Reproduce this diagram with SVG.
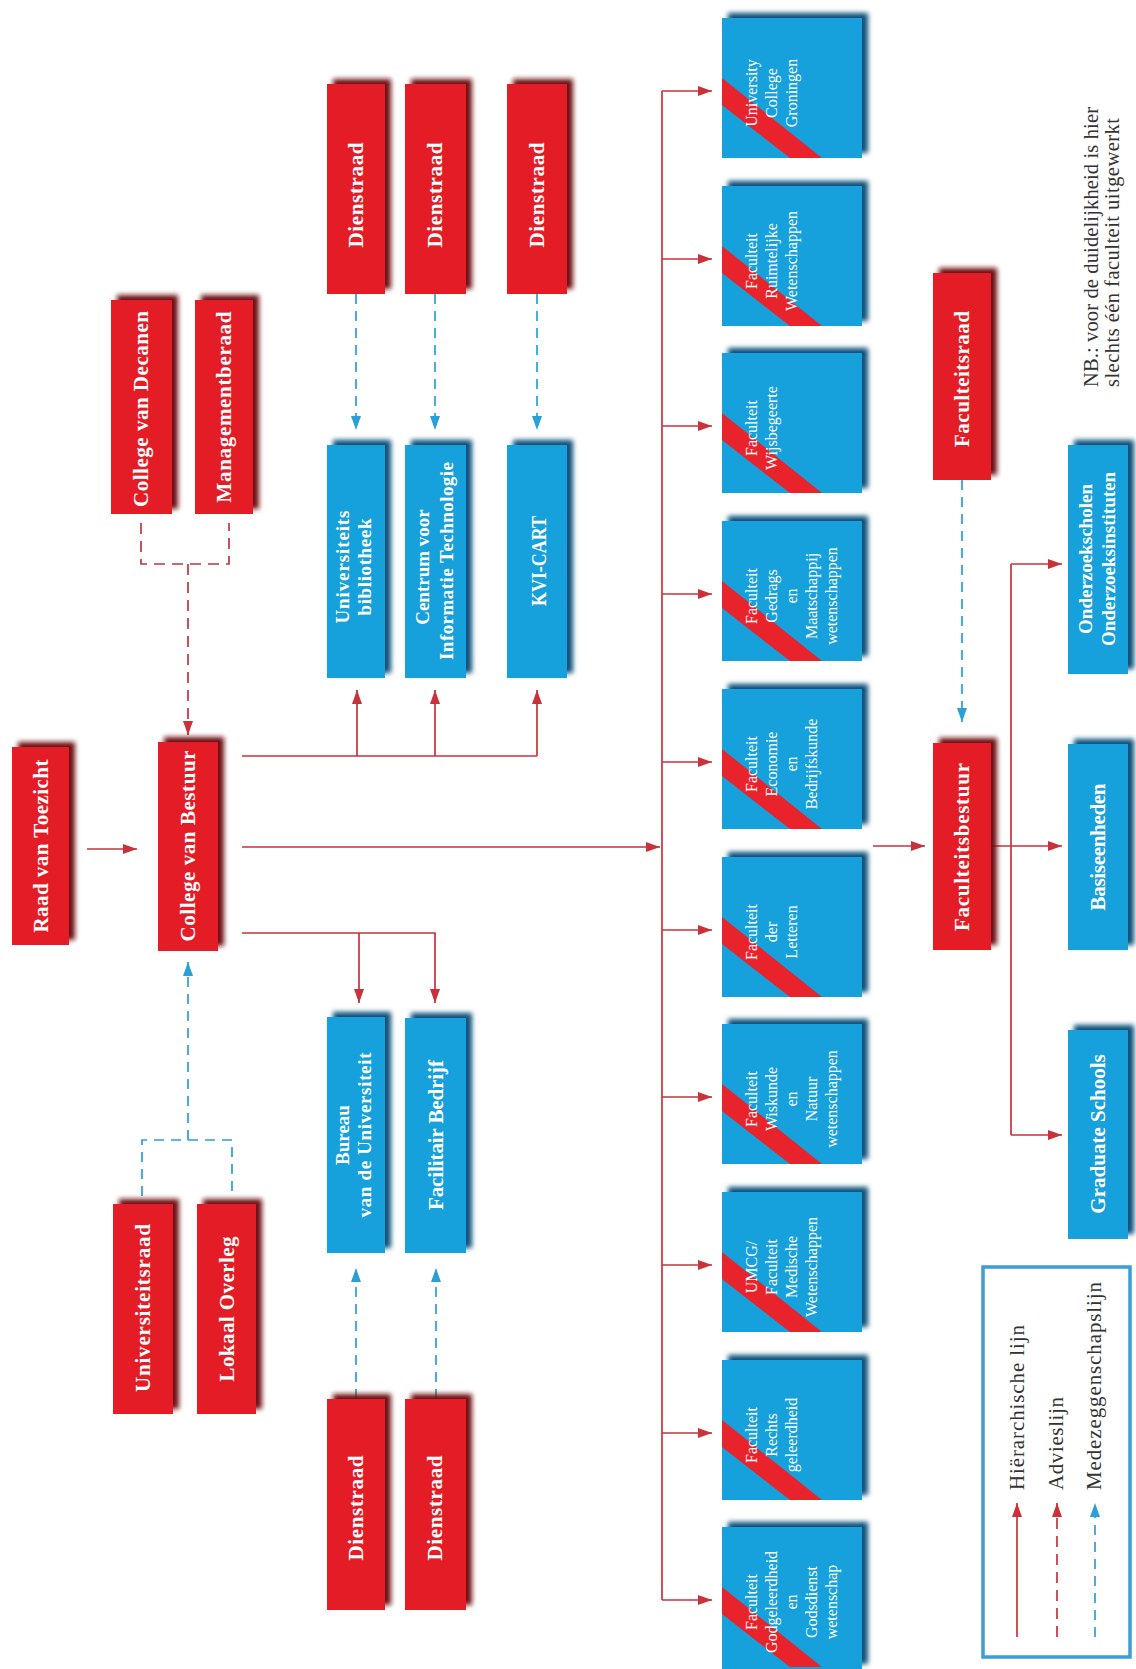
<svg xmlns="http://www.w3.org/2000/svg" width="1136" height="1669" viewBox="0 0 1136 1669">
<defs>
<style>
.r{fill:#e41e26}
.b{fill:#18a0dc}
.st{fill:#e8232b}
.t{font-family:"Liberation Serif","Times New Roman",serif;fill:#fff}
.tb{font-weight:bold;font-size:21px}
.ts{font-weight:bold;font-size:19px}
.tf{font-size:16px}
.lg{font-family:"Liberation Serif","Times New Roman",serif;fill:#333;font-size:21px}
.h{stroke:#c8323a;stroke-width:1.7;fill:none}
.a{stroke:#c0343c;stroke-width:1.7;fill:none;stroke-dasharray:11 7}
.m{stroke:#2a9fd8;stroke-width:1.7;fill:none;stroke-dasharray:10 7}
</style>
<filter id="shR" x="-30%" y="-20%" width="160%" height="140%">
<feGaussianBlur in="SourceAlpha" stdDeviation="2.5"/>
<feOffset dx="6" dy="-5" result="o"/>
<feFlood flood-color="#6e1114"/>
<feComposite in2="o" operator="in"/>
<feMerge><feMergeNode/><feMergeNode in="SourceGraphic"/></feMerge>
</filter>
<filter id="shB" x="-30%" y="-20%" width="160%" height="140%">
<feGaussianBlur in="SourceAlpha" stdDeviation="2.5"/>
<feOffset dx="6" dy="-5" result="o"/>
<feFlood flood-color="#0b4f78"/>
<feComposite in2="o" operator="in"/>
<feMerge><feMergeNode/><feMergeNode in="SourceGraphic"/></feMerge>
</filter>
<marker id="ah" viewBox="0 0 14 10" refX="14" refY="5" markerWidth="14" markerHeight="10" orient="auto" markerUnits="userSpaceOnUse"><path d="M0,0 L14,5 L0,10 z" fill="#c8323a"/></marker>
<marker id="am" viewBox="0 0 14 10" refX="14" refY="5" markerWidth="14" markerHeight="10" orient="auto" markerUnits="userSpaceOnUse"><path d="M0,0 L14,5 L0,10 z" fill="#2a9fd8"/></marker>
</defs>
<rect width="1136" height="1669" fill="#fff"/>

<g id="connectors">
<path class="h" d="M87,849 H137" marker-end="url(#ah)"/>
<path class="a" d="M141,523 V564 H229 V523"/>
<path class="a" d="M188,564 V735" marker-end="url(#ah)"/>
<path class="m" d="M142,1196 V1140 H232 V1196"/>
<path class="m" d="M188,1140 V962" marker-end="url(#am)"/>
<path class="h" d="M242,756 H537"/>
<path class="h" d="M357,756 V690" marker-end="url(#ah)"/>
<path class="h" d="M435,756 V690" marker-end="url(#ah)"/>
<path class="h" d="M537,756 V690" marker-end="url(#ah)"/>
<path class="h" d="M242,847 H660" marker-end="url(#ah)"/>
<path class="h" d="M242,933 H435 V1003" marker-end="url(#ah)"/>
<path class="h" d="M359,933 V1003" marker-end="url(#ah)"/>
<path class="m" d="M356,294 V430" marker-end="url(#am)"/>
<path class="m" d="M435,294 V430" marker-end="url(#am)"/>
<path class="m" d="M537,294 V430" marker-end="url(#am)"/>
<path class="m" d="M356,1399 V1268" marker-end="url(#am)"/>
<path class="m" d="M436,1399 V1268" marker-end="url(#am)"/>
<path class="h" d="M662,91 V1600"/>
<path class="h" d="M662,91 H712" marker-end="url(#ah)"/>
<path class="h" d="M662,259 H712" marker-end="url(#ah)"/>
<path class="h" d="M662,426 H712" marker-end="url(#ah)"/>
<path class="h" d="M662,594 H712" marker-end="url(#ah)"/>
<path class="h" d="M662,762 H712" marker-end="url(#ah)"/>
<path class="h" d="M662,930 H712" marker-end="url(#ah)"/>
<path class="h" d="M662,1097 H712" marker-end="url(#ah)"/>
<path class="h" d="M662,1265 H712" marker-end="url(#ah)"/>
<path class="h" d="M662,1433 H712" marker-end="url(#ah)"/>
<path class="h" d="M662,1600 H712" marker-end="url(#ah)"/>
<path class="m" d="M962,480 V722" marker-end="url(#am)"/>
<path class="h" d="M873,846 H925" marker-end="url(#ah)"/>
<path class="h" d="M991,846 H1062" marker-end="url(#ah)"/>
<path class="h" d="M1011,564 V1135"/>
<path class="h" d="M1011,564 H1062" marker-end="url(#ah)"/>
<path class="h" d="M1011,1135 H1062" marker-end="url(#ah)"/>
</g>

<g id="raad-van-toezicht"><rect class="r" x="12" y="747" width="57" height="198" filter="url(#shR)"/>
<text class="t tb" text-anchor="middle" transform="translate(12,846) rotate(-90)"><tspan x="0" y="36" textLength="173">Raad van Toezicht</tspan></text></g>
<g id="college-van-bestuur"><rect class="r" x="158" y="742" width="60" height="209" filter="url(#shR)"/>
<text class="t tb" text-anchor="middle" transform="translate(158,846) rotate(-90)"><tspan x="0" y="37" textLength="191">College van Bestuur</tspan></text></g>
<g id="college-van-decanen"><rect class="r" x="111" y="300" width="61" height="214" filter="url(#shR)"/>
<text class="t tb" text-anchor="middle" transform="translate(111,409) rotate(-90)"><tspan x="0" y="37" textLength="196">College van Decanen</tspan></text></g>
<g id="managementberaad"><rect class="r" x="195" y="300" width="58" height="214" filter="url(#shR)"/>
<text class="t tb" text-anchor="middle" transform="translate(195,407) rotate(-90)"><tspan x="0" y="36" textLength="191">Managementberaad</tspan></text></g>
<g id="universiteitsraad"><rect class="r" x="113" y="1204" width="60" height="210" filter="url(#shR)"/>
<text class="t tb" text-anchor="middle" transform="translate(113,1308) rotate(-90)"><tspan x="0" y="37" textLength="168">Universiteitsraad</tspan></text></g>
<g id="lokaal-overleg"><rect class="r" x="197" y="1204" width="59" height="210" filter="url(#shR)"/>
<text class="t tb" text-anchor="middle" transform="translate(197,1309) rotate(-90)"><tspan x="0" y="37" textLength="145">Lokaal Overleg</tspan></text></g>
<g id="dienstraad-1"><rect class="r" x="327" y="84" width="58" height="210" filter="url(#shR)"/>
<text class="t tb" text-anchor="middle" transform="translate(327,195) rotate(-90)"><tspan x="0" y="36" textLength="105">Dienstraad</tspan></text></g>
<g id="dienstraad-2"><rect class="r" x="405" y="84" width="61" height="210" filter="url(#shR)"/>
<text class="t tb" text-anchor="middle" transform="translate(405,195) rotate(-90)"><tspan x="0" y="37" textLength="105">Dienstraad</tspan></text></g>
<g id="dienstraad-3"><rect class="r" x="507" y="84" width="60" height="210" filter="url(#shR)"/>
<text class="t tb" text-anchor="middle" transform="translate(507,195) rotate(-90)"><tspan x="0" y="37" textLength="105">Dienstraad</tspan></text></g>
<g id="dienstraad-4"><rect class="r" x="327" y="1399" width="58" height="211" filter="url(#shR)"/>
<text class="t tb" text-anchor="middle" transform="translate(327,1508) rotate(-90)"><tspan x="0" y="36" textLength="105">Dienstraad</tspan></text></g>
<g id="dienstraad-5"><rect class="r" x="405" y="1399" width="61" height="211" filter="url(#shR)"/>
<text class="t tb" text-anchor="middle" transform="translate(405,1508) rotate(-90)"><tspan x="0" y="37" textLength="105">Dienstraad</tspan></text></g>
<g id="faculteitsraad"><rect class="r" x="933" y="273" width="58" height="207" filter="url(#shR)"/>
<text class="t tb" text-anchor="middle" transform="translate(933,379) rotate(-90)"><tspan x="0" y="36" textLength="136">Faculteitsraad</tspan></text></g>
<g id="faculteitsbestuur"><rect class="r" x="933" y="743" width="58" height="207" filter="url(#shR)"/>
<text class="t tb" text-anchor="middle" transform="translate(933,847) rotate(-90)"><tspan x="0" y="36" textLength="168">Faculteitsbestuur</tspan></text></g>

<g id="universiteitsbibliotheek"><rect class="b" x="327" y="445" width="58" height="233" filter="url(#shB)"/>
<text class="t ts" text-anchor="middle" transform="translate(327,567) rotate(-90)"><tspan x="0" y="22" textLength="113">Universiteits</tspan><tspan x="0" y="44" textLength="97">bibliotheek</tspan></text></g>
<g id="centrum-it"><rect class="b" x="405" y="445" width="61" height="233" filter="url(#shB)"/>
<text class="t ts" text-anchor="middle" transform="translate(405,561) rotate(-90)"><tspan x="-6" y="24">Centrum voor</tspan><tspan x="0" y="48" textLength="198">Informatie Technologie</tspan></text></g>
<g id="kvi-cart"><rect class="b" x="507" y="445" width="60" height="233" filter="url(#shB)"/>
<text class="t tb" text-anchor="middle" transform="translate(507,561) rotate(-90)"><tspan x="0" y="39" textLength="90" lengthAdjust="spacingAndGlyphs">KVI-CART</tspan></text></g>
<g id="bureau"><rect class="b" x="327" y="1017" width="58" height="236" filter="url(#shB)"/>
<text class="t ts" text-anchor="middle" transform="translate(327,1135) rotate(-90)"><tspan x="0" y="22">Bureau</tspan><tspan x="0" y="44" textLength="165">van de Universiteit</tspan></text></g>
<g id="facilitair-bedrijf"><rect class="b" x="405" y="1018" width="61" height="235" filter="url(#shB)"/>
<text class="t tb" text-anchor="middle" transform="translate(405,1135) rotate(-90)"><tspan x="0" y="38" textLength="150">Facilitair Bedrijf</tspan></text></g>
<g id="onderzoekscholen"><rect class="b" x="1068" y="445" width="60" height="229" filter="url(#shB)"/>
<text class="t ts" text-anchor="middle" transform="translate(1068,559) rotate(-90)"><tspan x="0" y="24">Onderzoekscholen</tspan><tspan x="0" y="47">Onderzoeksinstituten</tspan></text></g>
<g id="basiseenheden"><rect class="b" x="1068" y="744" width="60" height="206" filter="url(#shB)"/>
<text class="t tb" text-anchor="middle" transform="translate(1068,847) rotate(-90)"><tspan x="0" y="37" textLength="127">Basiseenheden</tspan></text></g>
<g id="graduate-schools"><rect class="b" x="1068" y="1030" width="60" height="209" filter="url(#shB)"/>
<text class="t tb" text-anchor="middle" transform="translate(1068,1134) rotate(-90)"><tspan x="0" y="37">Graduate Schools</tspan></text></g>

<g id="fac-ucg"><rect class="b" x="722" y="18" width="140" height="140" filter="url(#shB)"/>
<polygon class="st" points="722,78 822,158 790,158 722,105"/>
<text class="t tf" text-anchor="middle" transform="translate(722,93) rotate(-90)"><tspan x="0" y="35">University</tspan><tspan x="0" y="55">College</tspan><tspan x="0" y="75">Groningen</tspan></text></g>
<g id="fac-ruimtelijke"><rect class="b" x="722" y="186" width="140" height="140" filter="url(#shB)"/>
<polygon class="st" points="722,246 822,326 790,326 722,273"/>
<text class="t tf" text-anchor="middle" transform="translate(722,261) rotate(-90)"><tspan x="0" y="35">Faculteit</tspan><tspan x="0" y="55">Ruimtelijke</tspan><tspan x="0" y="75">Wetenschappen</tspan></text></g>
<g id="fac-wijsbegeerte"><rect class="b" x="722" y="353" width="140" height="140" filter="url(#shB)"/>
<polygon class="st" points="722,413 822,493 790,493 722,440"/>
<text class="t tf" text-anchor="middle" transform="translate(722,428) rotate(-90)"><tspan x="0" y="35">Faculteit</tspan><tspan x="0" y="55">Wijsbegeerte</tspan></text></g>
<g id="fac-gedrag"><rect class="b" x="722" y="521" width="140" height="140" filter="url(#shB)"/>
<polygon class="st" points="722,581 822,661 790,661 722,608"/>
<text class="t tf" text-anchor="middle" transform="translate(722,596) rotate(-90)"><tspan x="0" y="35">Faculteit</tspan><tspan x="0" y="55">Gedrags</tspan><tspan x="0" y="75">en</tspan><tspan x="0" y="95">Maatschappij</tspan><tspan x="0" y="115">wetenschappen</tspan></text></g>
<g id="fac-economie"><rect class="b" x="722" y="689" width="140" height="140" filter="url(#shB)"/>
<polygon class="st" points="722,749 822,829 790,829 722,776"/>
<text class="t tf" text-anchor="middle" transform="translate(722,764) rotate(-90)"><tspan x="0" y="35">Faculteit</tspan><tspan x="0" y="55">Economie</tspan><tspan x="0" y="75">en</tspan><tspan x="0" y="95">Bedrijfskunde</tspan></text></g>
<g id="fac-letteren"><rect class="b" x="722" y="857" width="140" height="140" filter="url(#shB)"/>
<polygon class="st" points="722,917 822,997 790,997 722,944"/>
<text class="t tf" text-anchor="middle" transform="translate(722,932) rotate(-90)"><tspan x="0" y="35">Faculteit</tspan><tspan x="0" y="55">der</tspan><tspan x="0" y="75">Letteren</tspan></text></g>
<g id="fac-wiskunde"><rect class="b" x="722" y="1024" width="140" height="140" filter="url(#shB)"/>
<polygon class="st" points="722,1084 822,1164 790,1164 722,1111"/>
<text class="t tf" text-anchor="middle" transform="translate(722,1099) rotate(-90)"><tspan x="0" y="35">Faculteit</tspan><tspan x="0" y="55">Wiskunde</tspan><tspan x="0" y="75">en</tspan><tspan x="0" y="95">Natuur</tspan><tspan x="0" y="115">wetenschappen</tspan></text></g>
<g id="fac-umcg"><rect class="b" x="722" y="1192" width="140" height="140" filter="url(#shB)"/>
<polygon class="st" points="722,1252 822,1332 790,1332 722,1279"/>
<text class="t tf" text-anchor="middle" transform="translate(722,1267) rotate(-90)"><tspan x="0" y="35">UMCG/</tspan><tspan x="0" y="55">Faculteit</tspan><tspan x="0" y="75">Medische</tspan><tspan x="0" y="95">Wetenschappen</tspan></text></g>
<g id="fac-rechts"><rect class="b" x="722" y="1360" width="140" height="140" filter="url(#shB)"/>
<polygon class="st" points="722,1420 822,1500 790,1500 722,1447"/>
<text class="t tf" text-anchor="middle" transform="translate(722,1435) rotate(-90)"><tspan x="0" y="35">Faculteit</tspan><tspan x="0" y="55">Rechts</tspan><tspan x="0" y="75">geleerdheid</tspan></text></g>
<g id="fac-godgeleerdheid"><rect class="b" x="722" y="1527" width="140" height="142" filter="url(#shB)"/>
<polygon class="st" points="722,1587 822,1667 790,1667 722,1614"/>
<text class="t tf" text-anchor="middle" transform="translate(722,1602) rotate(-90)"><tspan x="0" y="35">Faculteit</tspan><tspan x="0" y="55">Godgeleerdheid</tspan><tspan x="0" y="75">en</tspan><tspan x="0" y="95">Godsdienst</tspan><tspan x="0" y="115">wetenschap</tspan></text></g>

<g id="legend">
<rect x="983" y="1267" width="147" height="390" fill="#fff" stroke="#3d9dd6" stroke-width="3.5"/>
<path class="h" d="M1017,1637 V1503" marker-end="url(#ah)"/>
<path class="a" d="M1057,1637 V1503" marker-end="url(#ah)"/>
<path class="m" d="M1095,1637 V1503" marker-end="url(#am)"/>
<text class="lg" transform="translate(1024,1490) rotate(-90)" textLength="165">Hiërarchische lijn</text>
<text class="lg" transform="translate(1063,1490) rotate(-90)" textLength="93">Advieslijn</text>
<text class="lg" transform="translate(1101,1490) rotate(-90)" textLength="208">Medezeggenschapslijn</text>
</g>

<g id="note">
<text class="lg" style="font-size:20.5px" transform="translate(1098,387) rotate(-90)" textLength="280">NB.: voor de duidelijkheid is hier</text>
<text class="lg" style="font-size:20.5px" transform="translate(1119,387) rotate(-90)" textLength="269">slechts één faculteit uitgewerkt</text>
</g>
</svg>
